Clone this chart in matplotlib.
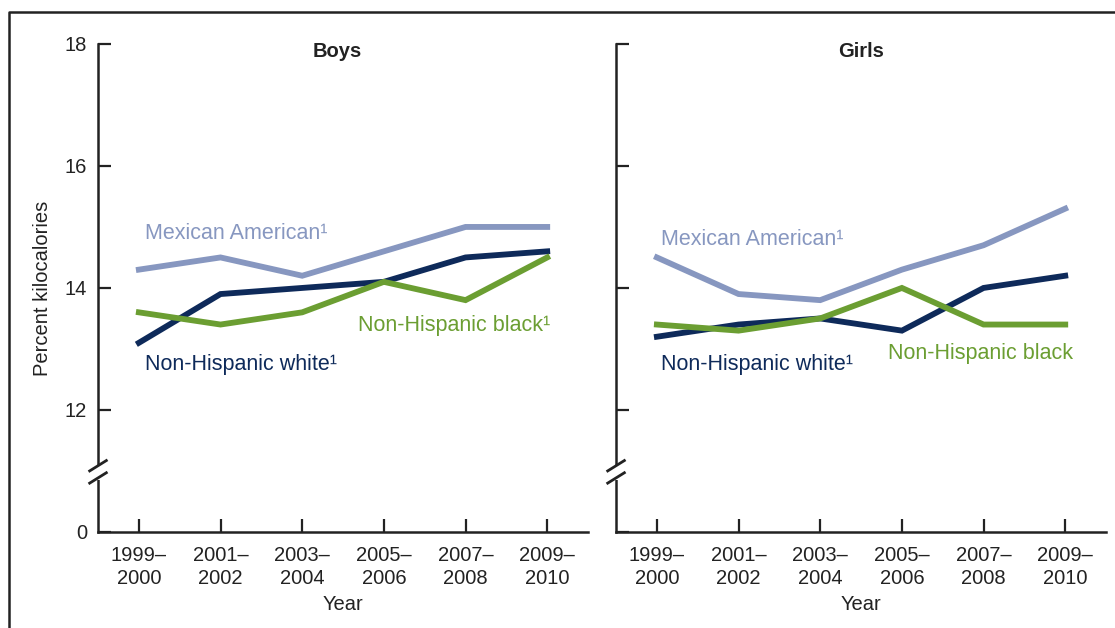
import matplotlib.pyplot as plt
from matplotlib.lines import Line2D
from matplotlib.patches import Rectangle

plt.rcParams["font.family"] = ["Liberation Sans", "DejaVu Sans"]

periods = ["1999–\n2000", "2001–\n2002", "2003–\n2004", "2005–\n2006", "2007–\n2008", "2009–\n2010"]

boys_mexican = [14.3, 14.5, 14.2, 14.6, 15.0, 15.0]
boys_white   = [13.1, 13.9, 14.0, 14.1, 14.5, 14.6]
boys_black   = [13.6, 13.4, 13.6, 14.1, 13.8, 14.5]

girls_mexican = [14.5, 13.9, 13.8, 14.3, 14.7, 15.3]
girls_white   = [13.2, 13.4, 13.5, 13.3, 14.0, 14.2]
girls_black   = [13.4, 13.3, 13.5, 14.0, 13.4, 13.4]

# y axis is broken: the "0" label sits where 10 would be
ytick_vals   = [10, 12, 14, 16, 18]
ytick_labels = ["0", "12", "14", "16", "18"]

C_MEX = "#8797c0"
C_WHT = "#0e2a5a"
C_BLK = "#6b9e32"
INK = "#222222"
FS = 14.5
FS_LAB = 15.5

fig = plt.figure(figsize=(11.15, 6.28), dpi=100)
ax_b = fig.add_axes([0.0879, 0.153, 0.4395, 0.777])
ax_g = fig.add_axes([0.5525, 0.153, 0.4395, 0.777])

panels = [
    (ax_b, "Boys", boys_mexican, boys_white, boys_black,
     [("Mexican American¹", 0.075, 14.9, C_MEX),
      ("Non-Hispanic white¹", 0.075, 12.74, C_WHT),
      ("Non-Hispanic black¹", 2.68, 13.38, C_BLK)]),
    (ax_g, "Girls", girls_mexican, girls_white, girls_black,
     [("Mexican American¹", 0.05, 14.79, C_MEX),
      ("Non-Hispanic white¹", 0.05, 12.74, C_WHT),
      ("Non-Hispanic black", 2.83, 12.92, C_BLK)]),
]

x = list(range(len(periods)))
for ax, title, mex, wht, blk, labels in panels:
    ax.plot(x, mex, color=C_MEX, lw=4.2, solid_joinstyle="miter")
    ax.plot(x, wht, color=C_WHT, lw=4.2, solid_joinstyle="miter")
    ax.plot(x, blk, color=C_BLK, lw=4.2, solid_joinstyle="miter")
    for txt, tx, ty, c in labels:
        ax.text(tx, ty, txt, color=c, fontsize=FS_LAB, ha="left", va="center")

    ax.set_xlim(-0.5, 5.5)
    ax.set_ylim(10, 18)
    ax.set_xticks(x)
    ax.set_xticklabels(periods, fontsize=FS, color=INK, linespacing=1.3)
    ax.set_yticks(ytick_vals)
    ax.set_yticklabels(ytick_labels, fontsize=FS, color=INK)
    ax.tick_params(axis="both", direction="in", length=9.5, width=1.6, color=INK)
    ax.tick_params(axis="x", pad=10)
    ax.tick_params(axis="y", pad=8)
    for s in ["top", "right"]:
        ax.spines[s].set_visible(False)
    for s in ["left", "bottom"]:
        ax.spines[s].set_linewidth(1.8)
        ax.spines[s].set_color(INK)
    ax.set_xlabel("Year", fontsize=FS, color=INK, labelpad=5)
    ax.text(0.5 - 0.012 if title == "Boys" else 0.5, 0.985, title, transform=ax.transAxes,
            ha="center", va="center", fontsize=FS, fontweight="bold", color=INK)

    # axis break marks
    tr = ax.get_yaxis_transform()
    ax.add_patch(Rectangle((-0.02, 10.85), 0.04, 0.24, transform=tr,
                           facecolor="white", edgecolor="none", clip_on=False, zorder=5))
    for y0 in (10.8, 11.0):
        ax.add_line(Line2D([-0.017, 0.017], [y0, y0 + 0.17], transform=tr,
                           color=INK, lw=2.0, clip_on=False, zorder=6))

ax_g.set_yticklabels([])
ax_b.set_ylabel("Percent kilocalories", fontsize=FS, color=INK, labelpad=9)

# outer frame (top and left)
fig.add_artist(Line2D([0.008, 0.008, 1.0], [0.0, 0.981, 0.981],
                      transform=fig.transFigure, color=INK, lw=1.8))

fig.savefig("out.png", dpi=100)
